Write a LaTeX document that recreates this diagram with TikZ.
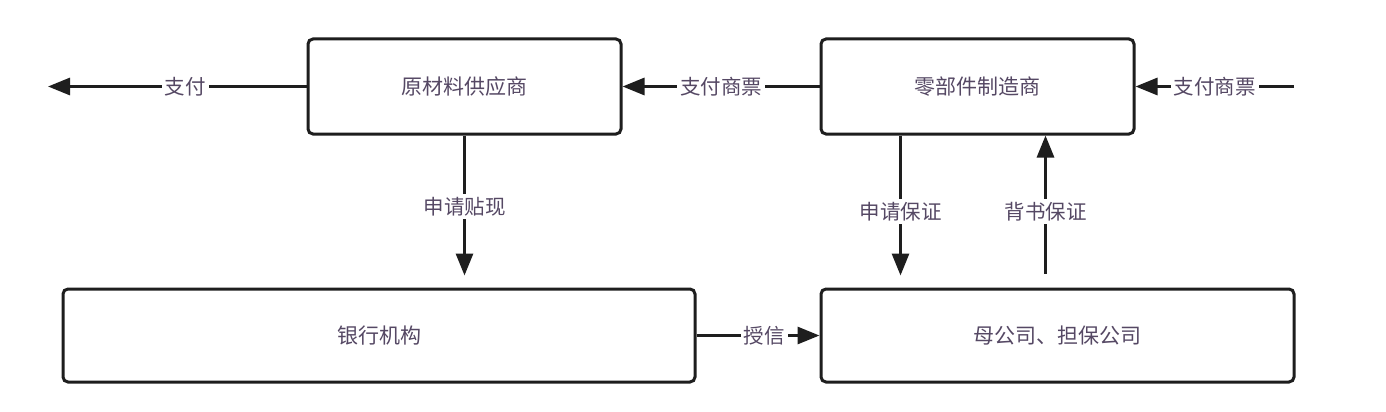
\documentclass[tikz,border=0pt]{standalone}
\usepackage{fontspec}
\setmainfont{Noto Sans CJK SC}
\usetikzlibrary{arrows.meta}
\definecolor{txt}{RGB}{85,72,100}
\definecolor{ln}{RGB}{30,30,30}
\begin{document}
\begin{tikzpicture}[x=1pt,y=-1pt,
  box/.style={draw=ln,line width=3pt,rounded corners=5pt,inner sep=0pt},
  btxt/.style={text=txt,font=\fontsize{21pt}{23pt}\selectfont},
  lbl/.style={fill=white,text=txt,font=\fontsize{20.5pt}{22pt}\selectfont,inner sep=3pt},
  conn/.style={draw=ln,line width=3pt,-{Triangle[length=22pt,width=17pt]}}]
\useasboundingbox[fill=white] (0,0) rectangle (1386,412);
\node[box,minimum width=313pt,minimum height=95pt] (A) at (464.5,86.5) {};
\node[btxt] (At) at (A.center) {原材料供应商};
\node[box,minimum width=313pt,minimum height=95pt] (B) at (977.5,86.5) {};
\node[btxt] (Bt) at (B.center) {零部件制造商};
\node[box,minimum width=632pt,minimum height=93pt] (C) at (379,335.5) {};
\node[btxt] (Ct) at (C.center) {银行机构};
\node[box,minimum width=473pt,minimum height=93pt] (D) at (1057.5,335.5) {};
\node[btxt] (Dt) at (D.center) {母公司、担保公司};
\coordinate (L) at (48,86.5);
\coordinate (R) at (1294,86.5);
\path[conn] (A.west) -- node[lbl,pos=0.47] {支付} (L);
\path[conn] (B.west) -- node[lbl] {支付商票} (A.east);
\path[conn] (R) -- node[lbl] {支付商票} (B.east);
\path[conn,shorten >=12pt] (A.south) -- node[lbl,pos=0.47] {申请贴现} (A.south |- C.north);
\coordinate (b1) at ([xshift=-77pt]B.south);
\coordinate (b2) at ([xshift=68pt]B.south);
\path[conn,shorten >=12pt] (b1) -- node[lbl,pos=0.5] {申请保证} (b1 |- D.north);
\path[conn,shorten <=14pt] (b2 |- D.north) -- node[lbl,pos=0.5] {背书保证} (b2);
\path[conn] (C.east) -- node[lbl,pos=0.55] {授信} (D.west);
\end{tikzpicture}
\end{document}
